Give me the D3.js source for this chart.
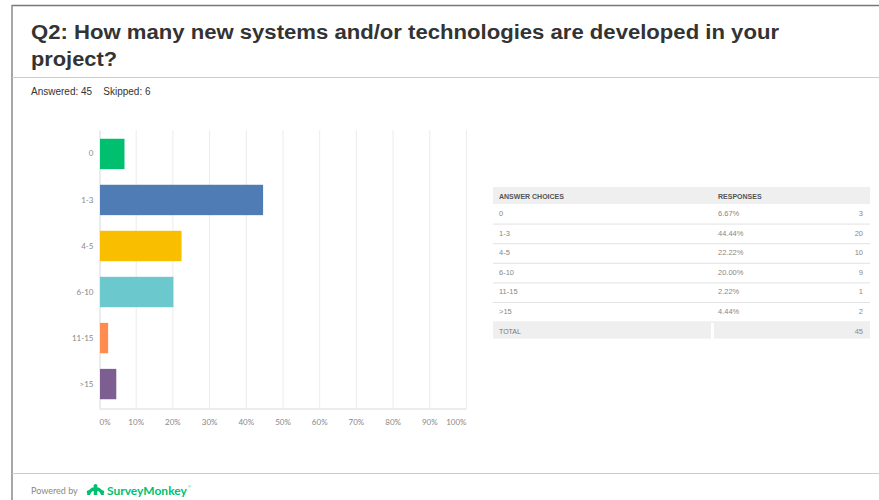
<!DOCTYPE html>
<html><head><meta charset="utf-8">
<script src="https://cdn.jsdelivr.net/npm/d3@7"></script>
<style>html,body{margin:0;padding:0;background:#fff;}svg{display:block;}</style>
</head><body>
<svg id="chart" width="879" height="500"></svg>
<script>
const titleLines = ["Q2: How many new systems and/or technologies are developed in your", "project?"];
const answered = 45;
const skipped = 6;
const categories = ["0", "1-3", "4-5", "6-10", "11-15", ">15"];
const percents = [6.67, 44.44, 22.22, 20.00, 2.22, 4.44];
const counts = [3, 20, 10, 9, 1, 2];
const total = 45;
const colors = ["#00bf6f", "#507cb6", "#f9be00", "#6bc8cd", "#ff8b4f", "#7d5e90"];
const xTicks = [0, 10, 20, 30, 40, 50, 60, 70, 80, 90, 100];
const tableHeaders = ["ANSWER CHOICES", "RESPONSES"];

const svg = d3.select("#chart");
const sans = "'Liberation Sans', Arial, Helvetica, sans-serif";

// frame
svg.append("line").attr("x1", 12).attr("x2", 879).attr("y1", 5.5).attr("y2", 5.5).attr("stroke", "#777").attr("stroke-width", 1.5);
svg.append("line").attr("x1", 12).attr("x2", 12).attr("y1", 5).attr("y2", 500).attr("stroke", "#888").attr("stroke-width", 1.5);

// title
const titleWidths = [748, 86];
const title = svg.append("text").attr("font-family", sans).attr("font-weight", "bold").attr("font-size", 19.5).attr("fill", "#333");
titleLines.forEach((t, i) => title.append("tspan").attr("x", 31).attr("y", 39 + i * 27)
  .attr("textLength", titleWidths[i]).attr("lengthAdjust", "spacingAndGlyphs").text(t));
svg.append("line").attr("x1", 12).attr("x2", 879).attr("y1", 77.5).attr("y2", 77.5).attr("stroke", "#ccc");
svg.append("text").attr("x", 31).attr("y", 95).attr("font-family", sans).attr("font-size", 10).attr("fill", "#333")
  .text(`Answered: ${answered}    Skipped: ${skipped}`).attr("xml:space", "preserve");

// chart
const x = d3.scaleLinear().domain([0, 100]).range([99, 466]);
const y = d3.scaleBand().domain(categories).range([130, 408]).paddingInner(0.34).paddingOuter(0.19);
const g = svg.append("g");
g.selectAll("line.grid").data(xTicks.slice(1)).join("line").attr("class", "grid")
  .attr("x1", d => x(d) + 0.5).attr("x2", d => x(d) + 0.5).attr("y1", 130).attr("y2", 408)
  .attr("stroke", "#ececec");
const xAxis = g.append("g").attr("transform", "translate(0,408.5)")
  .call(d3.axisBottom(x).tickValues(xTicks).tickFormat(d => d + "%").tickSize(0).tickPadding(11));
xAxis.select(".domain").attr("stroke", "#d8d8d8");
xAxis.selectAll("text").attr("font-family", "Lato, sans-serif").attr("font-size", 8).attr("fill", "#888")
  .attr("text-anchor", (d, i) => i === 0 ? "start" : (i === xTicks.length - 1 ? "end" : "middle"));
const yAxis = g.append("g").attr("transform", "translate(99.5,0)")
  .call(d3.axisLeft(y).tickSize(0).tickPadding(6));
yAxis.select(".domain").attr("stroke", "#d8d8d8");
yAxis.selectAll("text").attr("font-family", "Lato, sans-serif").attr("font-size", 8).attr("fill", "#888");

g.selectAll("rect.bar").data(categories).join("rect").attr("class", "bar")
  .attr("x", x(0) + 1).attr("y", d => y(d))
  .attr("width", (d, i) => x(percents[i]) - x(0))
  .attr("height", y.bandwidth())
  .attr("fill", (d, i) => colors[i]);

// table
const tx0 = 493, tx1 = 870, col2 = 713, rowH = 19.6, headTop = 187;
const tbl = svg.append("g").attr("font-family", sans);
tbl.append("rect").attr("x", tx0).attr("y", headTop).attr("width", tx1 - tx0).attr("height", 17).attr("fill", "#efefef");
tbl.selectAll("text.head").data(tableHeaders).join("text").attr("class", "head")
  .attr("x", (d, i) => i === 0 ? 499 : 718).attr("y", headTop + 11.5)
  .attr("font-size", 7).attr("font-weight", "bold").attr("fill", "#555").text(d => d);
const rowTop = i => headTop + 17 + i * rowH;
const rows = tbl.selectAll("g.row").data(categories).join("g").attr("class", "row");
rows.append("line").attr("x1", tx0).attr("x2", tx1)
  .attr("y1", (d, i) => rowTop(i + 1) + 0.5).attr("y2", (d, i) => rowTop(i + 1) + 0.5)
  .attr("stroke", "#e2e2e2");
rows.append("text").attr("x", 499).attr("y", (d, i) => rowTop(i) + 12)
  .attr("font-size", 7.5).attr("fill", "#888").text(d => d);
rows.append("text").attr("x", 718).attr("y", (d, i) => rowTop(i) + 12)
  .attr("font-size", 7.5).attr("fill", "#888").text((d, i) => percents[i].toFixed(2) + "%");
rows.append("text").attr("x", 863).attr("y", (d, i) => rowTop(i) + 12).attr("text-anchor", "end")
  .attr("font-size", 7.5).attr("fill", "#888").text((d, i) => counts[i]);
const totTop = rowTop(categories.length) + 1;
tbl.append("rect").attr("x", tx0).attr("y", totTop).attr("width", col2 - tx0 - 2).attr("height", 16).attr("fill", "#efefef");
tbl.append("rect").attr("x", col2 + 1).attr("y", totTop).attr("width", tx1 - col2 - 1).attr("height", 16).attr("fill", "#efefef");
tbl.append("text").attr("x", 499).attr("y", totTop + 11).attr("font-size", 7).attr("fill", "#777").text("TOTAL");
tbl.append("text").attr("x", 863).attr("y", totTop + 11).attr("text-anchor", "end").attr("font-size", 7.5).attr("fill", "#888").text(total);

// footer
svg.append("line").attr("x1", 12).attr("x2", 879).attr("y1", 473.5).attr("y2", 473.5).attr("stroke", "#ccc");
svg.append("text").attr("x", 31).attr("y", 494).attr("font-family", "Lato, sans-serif").attr("font-size", 9).attr("fill", "#888").text("Powered by");
const logo = svg.append("g").attr("transform", "translate(87,484)").attr("fill", "#00bf6f");
logo.append("path").attr("d", "M0,11 C1,6 4,3 8.5,3 C13,3 16,6 17,11 L14,11 C13.5,9 12,7 10.5,7 C10,8.5 10,10 10.5,11 L6.5,11 C7,10 7,8.5 6.5,7 C5,7 3.5,9 3,11 Z");
logo.append("circle").attr("cx", 8.5).attr("cy", 2).attr("r", 2);
logo.append("circle").attr("cx", 1.5).attr("cy", 8).attr("r", 1.8);
logo.append("circle").attr("cx", 15.5).attr("cy", 8).attr("r", 1.8);
svg.append("text").attr("x", 107).attr("y", 495).attr("font-family", "Lato, sans-serif").attr("font-weight", "bold")
  .attr("font-size", 12).attr("fill", "#00bf6f").text("SurveyMonkey");
svg.append("text").attr("x", 188).attr("y", 488).attr("font-family", sans).attr("font-size", 4).attr("fill", "#00bf6f").text("®");
</script>
</body></html>
